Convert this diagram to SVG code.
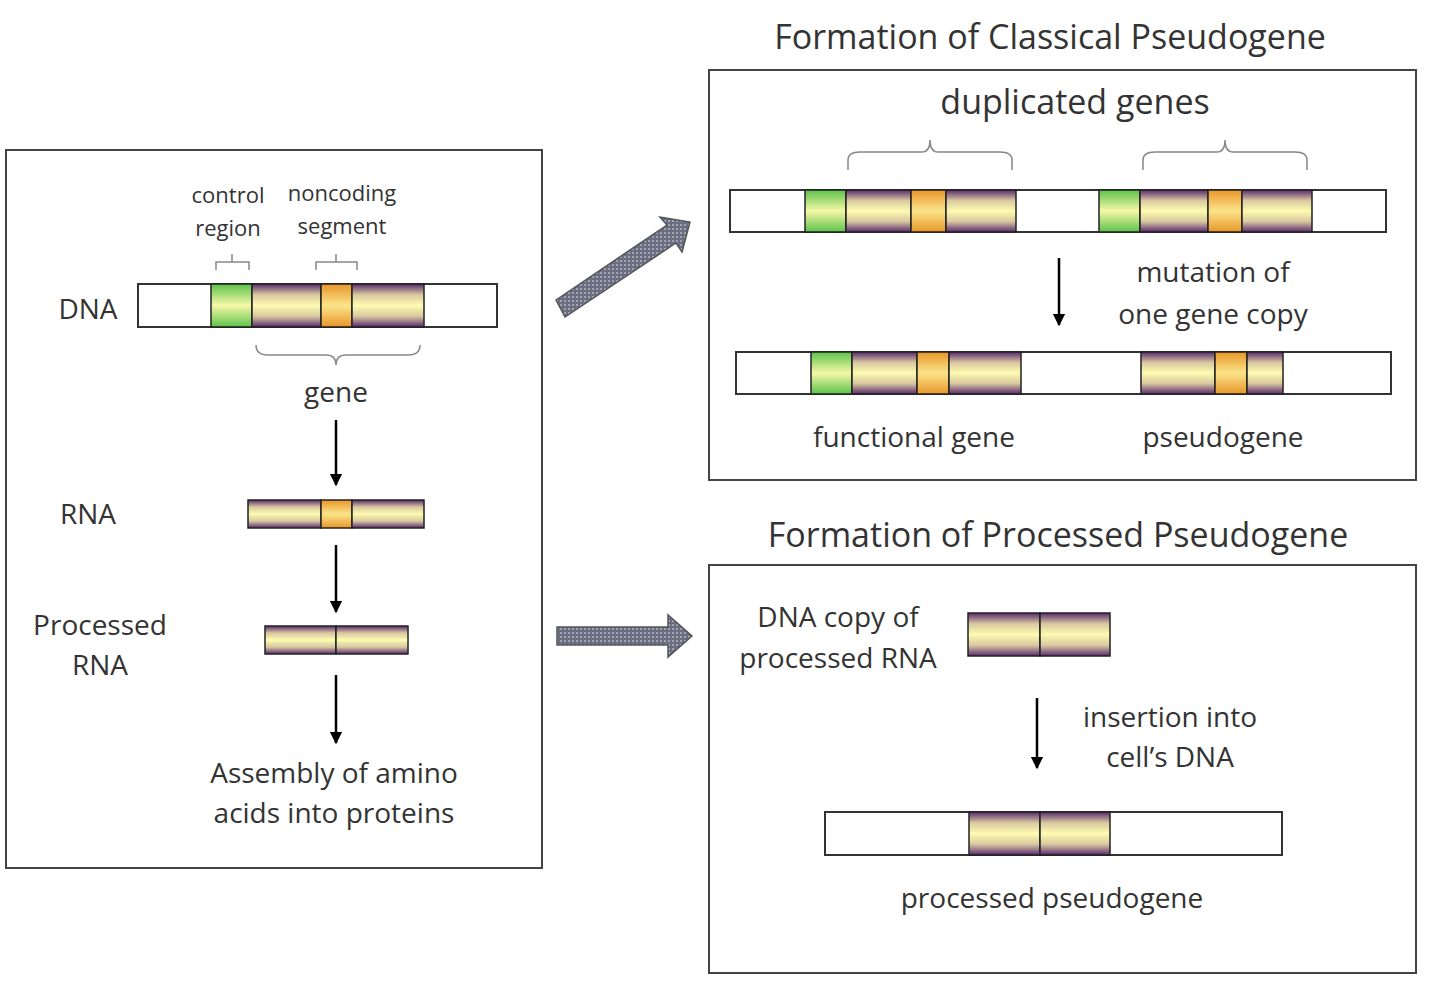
<svg xmlns="http://www.w3.org/2000/svg" width="1440" height="984" viewBox="0 0 1440 984">
<defs>
<linearGradient id="gx" x1="0" y1="0" x2="0" y2="1"><stop offset="0" stop-color="#5a2a6e"/><stop offset="0.25" stop-color="#d8c8a0"/><stop offset="0.5" stop-color="#fdfbb0"/><stop offset="0.75" stop-color="#d8c8a0"/><stop offset="1" stop-color="#5a2a6e"/></linearGradient>
<linearGradient id="gg" x1="0" y1="0" x2="0" y2="1"><stop offset="0" stop-color="#5cc24a"/><stop offset="0.5" stop-color="#f6f8a8"/><stop offset="1" stop-color="#5cc24a"/></linearGradient>
<linearGradient id="go" x1="0" y1="0" x2="0" y2="1"><stop offset="0" stop-color="#e8962a"/><stop offset="0.5" stop-color="#fbe48a"/><stop offset="1" stop-color="#e8962a"/></linearGradient>
<pattern id="hatch" width="4" height="4" patternUnits="userSpaceOnUse"><rect width="4" height="4" fill="#6a6e80"/><rect width="2" height="2" fill="#a0a4b0"/></pattern>
<marker id="ah" viewBox="0 0 10 10" refX="9" refY="5" markerWidth="5" markerHeight="6" orient="auto"><path d="M0 0L10 5L0 10z" fill="#000"/></marker>
</defs>
<style>
text{font-family:"Open Sans","Liberation Sans",sans-serif;fill:#333;text-anchor:middle}
.t{font-size:28px}.s{font-size:22px}.h{font-size:34px}
.box{fill:#fff;stroke:#444;stroke-width:2}
.bar{fill:#fff;stroke:#333;stroke-width:2}
.x{fill:url(#gx);stroke:#222;stroke-width:1.5}.g{fill:url(#gg);stroke:#222;stroke-width:1.5}.o{fill:url(#go);stroke:#222;stroke-width:1.5}
.br{fill:none;stroke:#888;stroke-width:1.5}
.ar{stroke:#000;stroke-width:2.5;marker-end:url(#ah)}
</style>
<rect width="1440" height="984" fill="#fff"/>
<g id="left">
<rect class="box" x="6" y="150" width="536" height="718"/>
<text class="s" x="228" y="203">control</text><text class="s" x="228" y="236">region</text>
<text class="s" x="342" y="201">noncoding</text><text class="s" x="342" y="234">segment</text>
<path class="br" d="M216 270V262H232V254M232 262H249V270M316 270V262H336V254M336 262H357V270"/>
<text class="t" x="88" y="319">DNA</text>
<rect class="bar" x="138" y="284" width="359" height="43"/>
<rect class="g" x="211" y="284" width="41" height="43"/><rect class="x" x="252" y="284" width="69" height="43"/><rect class="o" x="321" y="284" width="31" height="43"/><rect class="x" x="352" y="284" width="72" height="43"/>
<path class="br" d="M256 345Q256 355 268 355H326Q336 355 336 365M336 365Q336 355 346 355H408Q420 355 420 345"/>
<text class="t" x="336" y="402">gene</text>
<text class="t" x="88" y="524">RNA</text>
<rect class="x" x="248" y="500" width="73" height="28"/><rect class="o" x="321" y="500" width="31" height="28"/><rect class="x" x="352" y="500" width="72" height="28"/>
<text class="t" x="100" y="635">Processed</text><text class="t" x="100" y="675">RNA</text>
<rect class="x" x="265" y="626" width="71" height="28"/><rect class="x" x="336" y="626" width="72" height="28"/>
<text class="t" x="334" y="783">Assembly of amino</text><text class="t" x="334" y="823">acids into proteins</text>
</g>
<g id="classical">
<text class="h" x="1050" y="49">Formation of Classical Pseudogene</text>
<rect class="box" x="709" y="70" width="707" height="410"/>
<text class="h" x="1075" y="114">duplicated genes</text>
<path class="br" d="M848 170V160Q848 152 860 152H922Q930 152 930 140M930 140Q930 152 938 152H1000Q1012 152 1012 160V170M1143 170V160Q1143 152 1155 152H1217Q1225 152 1225 140M1225 140Q1225 152 1233 152H1295Q1307 152 1307 160V170"/>
<rect class="bar" x="730" y="190" width="656" height="42"/>
<rect class="g" x="805" y="190" width="41" height="42"/><rect class="x" x="846" y="190" width="65" height="42"/><rect class="o" x="911" y="190" width="35" height="42"/><rect class="x" x="946" y="190" width="70" height="42"/>
<rect class="g" x="1099" y="190" width="41" height="42"/><rect class="x" x="1140" y="190" width="68" height="42"/><rect class="o" x="1208" y="190" width="34" height="42"/><rect class="x" x="1242" y="190" width="70" height="42"/>
<text class="t" x="1213" y="282">mutation of</text><text class="t" x="1213" y="324">one gene copy</text>
<rect class="bar" x="736" y="352" width="655" height="42"/>
<rect class="g" x="811" y="352" width="41" height="42"/><rect class="x" x="852" y="352" width="65" height="42"/><rect class="o" x="917" y="352" width="32" height="42"/><rect class="x" x="949" y="352" width="72" height="42"/>
<rect class="x" x="1141" y="352" width="74" height="42"/><rect class="o" x="1215" y="352" width="32" height="42"/><rect class="x" x="1247" y="352" width="36" height="42"/>
<text class="t" x="914" y="447">functional gene</text><text class="t" x="1223" y="447">pseudogene</text>
</g>
<g id="processed">
<text class="h" x="1058" y="547">Formation of Processed Pseudogene</text>
<rect class="box" x="709" y="565" width="707" height="408"/>
<text class="t" x="838" y="627">DNA copy of</text><text class="t" x="838" y="668">processed RNA</text>
<rect class="x" x="968" y="613" width="72" height="43"/><rect class="x" x="1040" y="613" width="70" height="43"/>
<text class="t" x="1170" y="727">insertion into</text><text class="t" x="1170" y="767">cell’s DNA</text>
<rect class="bar" x="825" y="812" width="457" height="43"/>
<rect class="x" x="969" y="812" width="71" height="43"/><rect class="x" x="1040" y="812" width="70" height="43"/>
<text class="t" x="1052" y="908">processed pseudogene</text>
</g>
<g id="connectors">
<line class="ar" x1="336" y1="420" x2="336" y2="485"/>
<line class="ar" x1="336" y1="545" x2="336" y2="612"/>
<line class="ar" x1="336" y1="675" x2="336" y2="743"/>
<line class="ar" x1="1059" y1="258" x2="1059" y2="325"/>
<line class="ar" x1="1037" y1="698" x2="1037" y2="768"/>
<polygon fill="url(#hatch)" stroke="#555" stroke-width="1.5" points="556,300 667,225 660,217 690,222 682,252 676,243 565,317"/>
<polygon fill="url(#hatch)" stroke="#555" stroke-width="1.5" points="557,627 668,627 668,615 692,636 668,657 668,645 557,645"/>
</g>
</svg>
